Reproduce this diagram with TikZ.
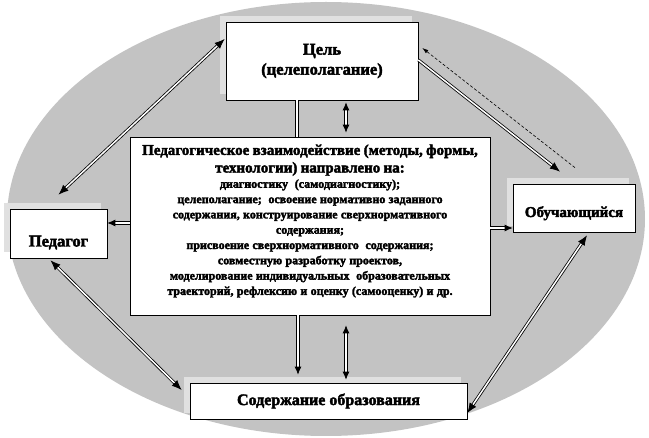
\documentclass[tikz,border=0pt]{standalone}
\usepackage{fontspec}
\setmainfont{Liberation Serif}[BoldFeatures={FakeBold=2.5}]
\usetikzlibrary{arrows.meta,shadows,calc}
\definecolor{ellgray}{RGB}{195,195,195}
\definecolor{shadgray}{RGB}{224,224,224}
\begin{document}
\begin{tikzpicture}[x=1pt,y=-1pt,
  box/.style={draw=black, line width=0.7pt, fill=white, font=\bfseries,
    copy shadow={shadow xshift=-6pt, shadow yshift=6pt, fill=shadgray, draw=none}},
  plainbox/.style={draw=black, line width=0.7pt, fill=white},
  dbl/.style={draw=black, line width=0.8pt, double=white, double distance=1.5pt},
  tipL/.tip={Latex[length=10pt,width=8pt]},
  tipS/.tip={Latex[length=8pt,width=7pt]},
  dashtip/.tip={Latex[length=6pt,width=4pt]}
]
\useasboundingbox (0,0) rectangle (649,438);
\fill[ellgray] (326,219) ellipse [x radius=319, y radius=217];

\node[box, minimum width=192, minimum height=78, align=center,
  font=\bfseries\fontsize{16.5}{20}\selectfont] (goal) at (322,61) {Цель\\(целеполагание)};
\node[plainbox, minimum width=360, minimum height=178] (center) at (310,226) {};
\node[text width=358pt, align=center, font=\bfseries] (ctext) at (310,221)
 {{\fontsize{15}{17.6}\selectfont Педагогическое взаимодействие (методы, формы,\\ технологии) направлено на:\par}
  {\fontsize{12}{15.3}\selectfont диагностику\ \ (самодиагностику);\\
   целеполагание;\ \ освоение нормативно заданного\\
   содержания, конструирование сверхнормативного\\
   содержания;\\
   присвоение сверхнормативного\ \ содержания;\\
   совместную разработку проектов,\\
   моделирование индивидуальных\ \ образовательных\\
   траекторий, рефлексию и оценку (самооценку) и др.\par}};
\node[box, minimum width=97, minimum height=49, text height=26pt, text depth=0pt,
  font=\bfseries\fontsize{16.5}{18}\selectfont] (ped) at (58.5,233.5) {Педагог};
\node[box, minimum width=122, minimum height=48, text height=18pt, text depth=0pt,
  font=\bfseries\fontsize{15}{17}\selectfont] (learner) at (574,208) {Обучающийся};
\node[box, minimum width=277, minimum height=36,
  font=\bfseries\fontsize{16}{18}\selectfont] (content) at (328.5,401) {Содержание образования};

\coordinate (xa) at (297,0);
\coordinate (xb) at (346,0);
\coordinate (xc) at (298,0);
\coordinate (ya) at (0,223);
\coordinate (yb) at (0,228);

\draw[dbl] (goal.south -| xa) -- (center.north -| xa);
\draw[dbl, tipS-tipS, shorten <=2pt, shorten >=4pt] (goal.south -| xb) -- (center.north -| xb);
\draw[dbl, -tipS] (center.west |- ya) -- (ped.east |- ya);
\draw[dbl, -tipS] (center.east |- yb) -- (learner.west |- yb);
\draw[dbl, -tipS, shorten >=8pt] (center.south -| xc) -- (content.north -| xc);
\draw[dbl, tipS-tipS, shorten <=10pt, shorten >=3pt] (center.south -| xb) -- (content.north -| xb);

\draw[dbl, tipL-tipL] ([xshift=-1pt,yshift=22pt]goal.west) -- ([yshift=14pt]ped.north);
\draw[dbl, tipL-tipL] ([xshift=-8pt,yshift=-2pt]ped.south) -- ([xshift=-8pt,yshift=11pt]content.west);
\draw[dbl, tipL-tipL] ([xshift=13pt,yshift=-3pt]learner.south) -- ([yshift=-12pt]content.east);
\draw[dbl, -tipL] ([yshift=1pt]goal.east) -- ([xshift=-14pt,yshift=12pt]learner.north);
\draw[black, line width=0.6pt, dash pattern=on 3pt off 2pt, -dashtip]
  ([xshift=1pt,yshift=16pt]learner.north) -- ([xshift=4pt,yshift=13pt]goal.east);
\end{tikzpicture}
\end{document}
